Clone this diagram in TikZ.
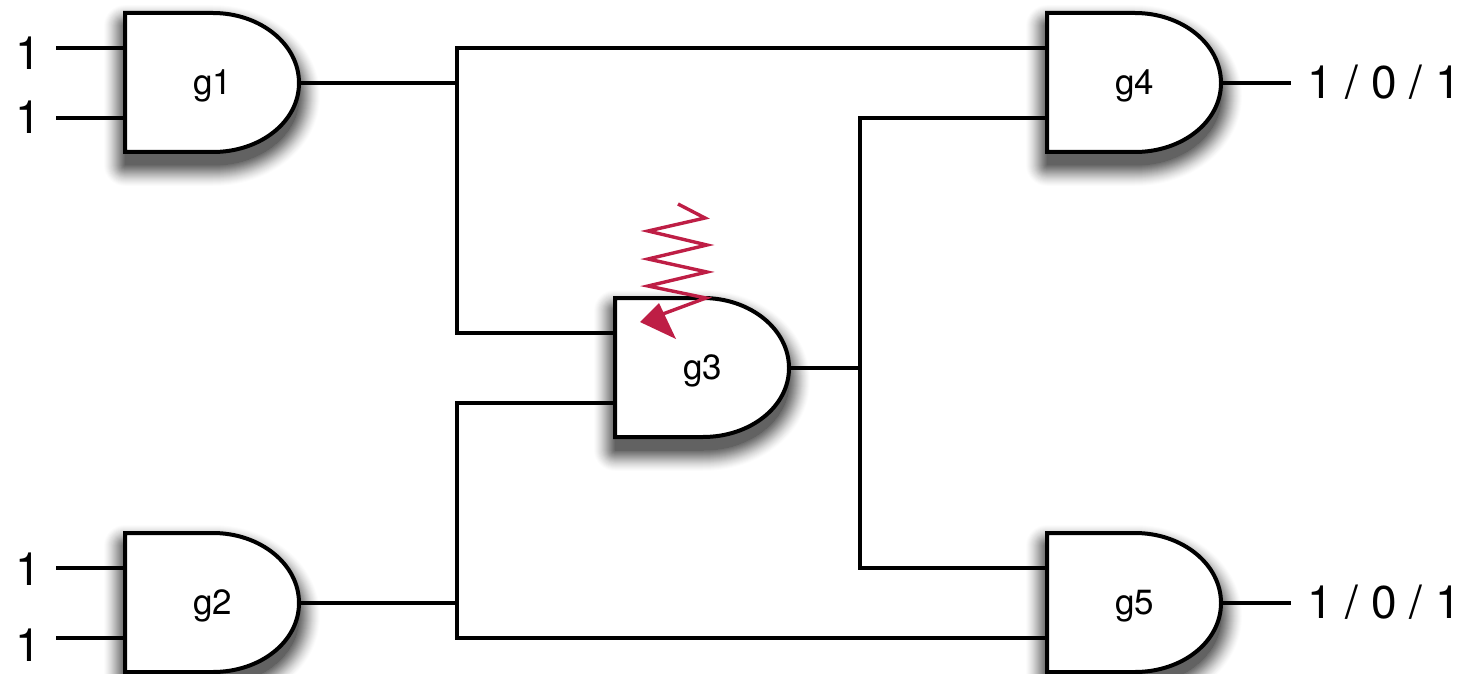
\documentclass[tikz,border=0pt]{standalone}
\usepackage{fontspec}
\setmainfont{TeX Gyre Heros}
\definecolor{glitch}{HTML}{BE1E45}
\tikzset{
  wire/.style={draw=black,line width=3.6pt,line join=miter},
  gateline/.style={draw=black,line width=4pt,line join=miter,fill=white},
  bigtext/.style={inner sep=0pt,font=\fontsize{46}{50}\selectfont},
  gatetext/.style={inner sep=0pt,font=\fontsize{35}{38}\selectfont},
  zap/.style={draw=glitch,line width=3.4pt,line join=miter},
  zaphead/.style={fill=glitch,draw=none},
}
\newcommand{\gateoutline}{(0,0) -- (88,0) .. controls (135,0) and (174,31) .. (174,70) .. controls (174,109) and (135,139) .. (88,139) -- (0,139) -- cycle}
\newcommand{\gateshadow}[2]{%
  \foreach \w in {42,40,...,0}{%
    \pgfmathsetmacro{\shadeop}{.012+.06*(1-\w/42)}
    \begin{scope}[shift={(#1,#2+13)},transparency group,opacity=\shadeop]
      \path (-45,-45) rectangle (220,185);
      \fill[black,draw=black,line width=\w pt,line join=round] \gateoutline;
    \end{scope}}}
\newcommand{\gategate}[4]{%
  \begin{scope}[shift={(#2,#3)}]
    \path[gateline] \gateoutline;
    \coordinate (#1-a) at (0,35);
    \coordinate (#1-b) at (0,105);
    \coordinate (#1-o) at (174,70);
    \node[gatetext] (#1) at (87.5,73) {#4};
  \end{scope}}
\begin{document}
\begin{tikzpicture}[x=1pt,y=-1pt]
\useasboundingbox (0,0) rectangle (1462,674);
\gateshadow{125}{13}
\gateshadow{125}{533}
\gateshadow{615}{298}
\gateshadow{1047}{13}
\gateshadow{1047}{533}
\gategate{g1}{125}{13}{g1}
\gategate{g2}{125}{533}{g2}
\gategate{g3}{615}{298}{g3}
\gategate{g4}{1047}{13}{g4}
\gategate{g5}{1047}{533}{g5}
\node[bigtext] (i1) at (28,53) {1};
\node[bigtext] (i2) at (28,117) {1};
\node[bigtext] (i3) at (28,569) {1};
\node[bigtext] (i4) at (28,645) {1};
\node[bigtext] (o4) at (1384,82) {1 / 0 / 1};
\node[bigtext] (o5) at (1384,602) {1 / 0 / 1};
\coordinate (s1) at (56,48);
\coordinate (s2) at (56,118);
\coordinate (s3) at (56,568);
\coordinate (s4) at (56,638);
\coordinate (e4) at (1291,83);
\coordinate (e5) at (1291,603);
\coordinate (j1) at (457,83);
\coordinate (j2) at (457,603);
\coordinate (j3) at (860,368);
\draw[wire] (s1) -- (g1-a);
\draw[wire] (s2) -- (g1-b);
\draw[wire] (s3) -- (g2-a);
\draw[wire] (s4) -- (g2-b);
\draw[wire] (g1-o) -- (j1);
\draw[wire] (g2-o) -- (j2);
\draw[wire] (g3-o) -- (j3);
\draw[wire] (g4-a) -| (j1) |- (g3-a);
\draw[wire] (g3-b) -| (j2) |- (g5-b);
\draw[wire] (g4-b) -| (j3) |- (g5-a);
\draw[wire] (g4-o) -- (e4);
\draw[wire] (g5-o) -- (e5);
\coordinate (z0) at (678,204);
\coordinate (z1) at (705,218);
\coordinate (z2) at (648,231);
\coordinate (z3) at (707,245);
\coordinate (z4) at (648,259);
\coordinate (z5) at (707,272);
\coordinate (z6) at (648,286);
\coordinate (z7) at (706,298);
\coordinate (z8) at (652,318);
\coordinate (h1) at (640,322);
\coordinate (h2) at (676,339);
\coordinate (h3) at (659,303);
\draw[zap] (z0) -- (z1) -- (z2) -- (z3) -- (z4) -- (z5) -- (z6) -- (z7) -- (z8);
\fill[zaphead] (h1) -- (h2) -- (h3) -- cycle;
\end{tikzpicture}
\end{document}
